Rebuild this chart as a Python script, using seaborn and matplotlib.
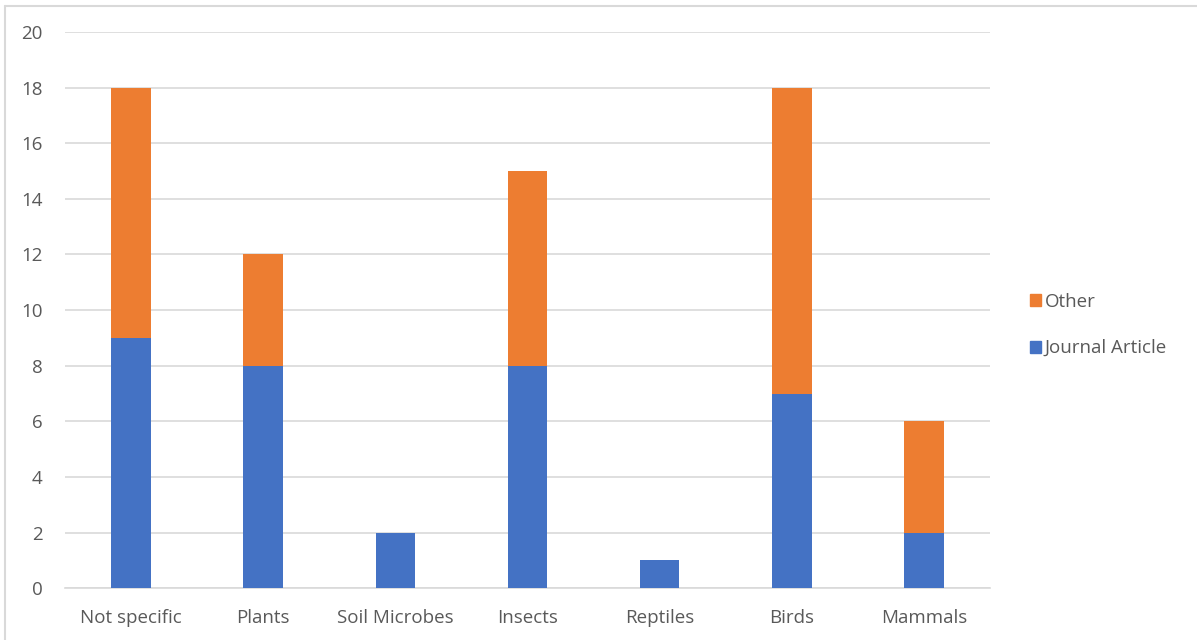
import matplotlib
matplotlib.use("Agg")
import matplotlib.pyplot as plt
import matplotlib.patches as mpatches
from matplotlib.lines import Line2D
import pandas as pd
import seaborn as sns

categories = ["Not specific", "Plants", "Soil Microbes", "Insects", "Reptiles", "Birds", "Mammals"]
journal_article = [9, 8, 2, 8, 1, 7, 2]
other = [9, 4, 0, 7, 0, 11, 4]

blue = "#4472C4"
orange = "#ED7D31"
text_col = "#595959"

df = pd.DataFrame({"category": categories, "Journal Article": journal_article, "Other": other})
df["total"] = df["Journal Article"] + df["Other"]

sns.set_style("white")
plt.rcParams["font.family"] = ["Open Sans", "DejaVu Sans"]

fig = plt.figure(figsize=(11.97, 6.4), dpi=100)
ax = fig.add_axes([0.0543, 0.081, 0.7727, 0.869])

# stacked: totals first (orange), then journal articles over them (blue)
sns.barplot(data=df, x="category", y="total", color=orange, width=0.3,
            saturation=1, linewidth=0, ax=ax, zorder=3)
sns.barplot(data=df, x="category", y="Journal Article", color=blue, width=0.3,
            saturation=1, linewidth=0, ax=ax, zorder=4)

ax.set_ylim(0, 20)
ax.set_yticks(range(0, 21, 2))
ax.set_xlim(-0.5, len(categories) - 0.5)
ax.yaxis.grid(True, color="#D9D9D9", linewidth=1.2, zorder=0)
ax.set_axisbelow(True)
for s in ["top", "right", "left"]:
    ax.spines[s].set_visible(False)
ax.spines["bottom"].set_color("#D9D9D9")
ax.spines["bottom"].set_linewidth(1.2)
ax.set_xlabel("")
ax.set_ylabel("")
ax.tick_params(axis="both", length=0, labelsize=13.5, labelcolor=text_col)
ax.tick_params(axis="y", pad=16)
ax.tick_params(axis="x", pad=15)

handles = [mpatches.Patch(color=orange, label="Other"),
           mpatches.Patch(color=blue, label="Journal Article")]
fig.legend(handles=handles, loc="center left", bbox_to_anchor=(0.846, 0.492),
           frameon=False, fontsize=13.5, labelcolor=text_col, handlelength=0.6,
           handleheight=0.6, handletextpad=0.2, labelspacing=1.5)

# light frame on the top and left edges only
fig.lines.append(Line2D([0.004, 1.0], [0.991, 0.991], transform=fig.transFigure,
                        color="#D9D9D9", linewidth=1.5))
fig.lines.append(Line2D([0.004, 0.004], [0.0, 0.991], transform=fig.transFigure,
                        color="#D9D9D9", linewidth=1.5))

fig.savefig("out.png", dpi=100)
